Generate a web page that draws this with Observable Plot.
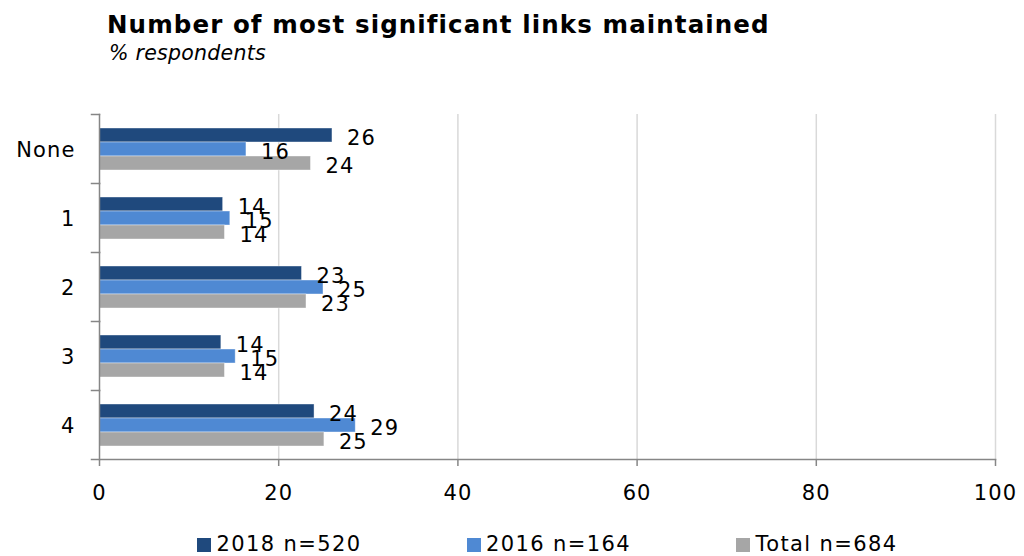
<!DOCTYPE html>
<html>
<head>
<meta charset="utf-8">
<script src="https://cdn.jsdelivr.net/npm/d3@7"></script>
<script src="https://cdn.jsdelivr.net/npm/@observablehq/plot@0.6"></script>
<style>
  html, body { margin: 0; padding: 0; background: #fff; }
  body { width: 1024px; height: 556px; overflow: hidden; position: relative; font-family: "DejaVu Sans", sans-serif; }
  #head { position: relative; height: 80px; }
  #title { position: absolute; left: 107px; top: 10px; font: bold 24.5px "DejaVu Sans", sans-serif; letter-spacing: 1.1px; color: #000; white-space: nowrap; }
  #subtitle { position: absolute; left: 109px; top: 41px; font: oblique 20.5px "DejaVu Sans", sans-serif; letter-spacing: 0.25px; color: #000; white-space: nowrap; }
  #chart { position: relative; height: 440px; }
  #legend { position: relative; height: 36px; }
  .sw { position: absolute; top: 18px; width: 14px; height: 14px; }
  .lt { position: absolute; top: 15px; font-size: 21px; line-height: 18px; letter-spacing: 1.4px; color: #000; white-space: nowrap; }
</style>
</head>
<body>
<div id="head">
  <div id="title"></div>
  <div id="subtitle"></div>
</div>
<div id="chart"></div>
<div id="legend"></div>
<script>
// ---- data ----
const titleText = "Number of most significant links maintained";
const subtitleText = "% respondents";
const categories = ["None", "1", "2", "3", "4"];
const seriesNames = ["2018 n=520", "2016 n=164", "Total n=684"];
const values2018 = [26.0, 13.8, 22.6, 13.6, 24.0];
const values2016 = [16.4, 14.6, 25.0, 15.2, 28.6];
const valuesTotal = [23.6, 14.0, 23.1, 14.0, 25.1];
const xTicks = [0, 20, 40, 60, 80, 100];
const seriesColors = ["#1f497d", "#4f89d3", "#a6a6a6"];

// ---- table ----
const seriesValues = [values2018, values2016, valuesTotal];
const rows = [];
categories.forEach((c, i) => {
  seriesNames.forEach((s, j) => rows.push({category: c, series: s, value: seriesValues[j][i]}));
});

document.getElementById("title").textContent = titleText;
document.getElementById("subtitle").textContent = subtitleText;

const W = 1024, H = 440;
const mL = 99, mR = 29, mT = 32, mB = 60;
const innerW = W - mL - mR;
const axisGray = "#868686";

const chart = Plot.plot({
  width: W,
  height: H,
  marginLeft: mL,
  marginRight: mR,
  marginTop: mT,
  marginBottom: mB,
  style: {fontFamily: "DejaVu Sans, sans-serif", fontSize: "21px", letterSpacing: "1.1px", color: "#000", background: "transparent", overflow: "visible", display: "block"},
  x: {domain: [0, 100], axis: null},
  fy: {domain: categories, padding: 0, axis: null},
  y: {domain: seriesNames, paddingInner: 0, paddingOuter: 0.82, axis: null},
  color: {domain: seriesNames, range: seriesColors},
  marks: [
    Plot.gridX(xTicks.filter(d => d > 0), {stroke: "#d9d9d9", strokeOpacity: 1, strokeWidth: 1.5}),
    Plot.barX(rows, {fy: "category", y: "series", x: "value", fill: "series", stroke: "#ffffff", strokeOpacity: 0.5, strokeWidth: 0.8}),
    Plot.text(rows, {fy: "category", y: "series", x: "value", text: d => String(Math.round(d.value)), textAnchor: "start", dx: 14.5, dy: 3, fontSize: 21, fill: "#000"}),
    Plot.frame({anchor: "left", stroke: axisGray, strokeWidth: 1.5}),
    Plot.frame({anchor: "top", stroke: axisGray, strokeWidth: 1.5, insetLeft: -8, insetRight: innerW}),
    Plot.frame({anchor: "bottom", facetAnchor: "bottom", stroke: axisGray, strokeWidth: 1.5, insetLeft: -8}),
    Plot.axisX({anchor: "bottom", ticks: xTicks, tickSize: 7, tickPadding: 19, stroke: axisGray, strokeWidth: 1.5, fill: "#000", fontSize: 21, label: null}),
    Plot.axisFy({anchor: "left", tickSize: 0, tickPadding: 24, fontSize: 21, dy: 1, fill: "#000", label: null})
  ]
});
document.getElementById("chart").appendChild(chart);

// ---- legend ----
const legend = document.getElementById("legend");
seriesNames.forEach((s, i) => {
  const x0 = 197 + i * 269.5;
  const sw = document.createElement("div");
  sw.className = "sw";
  sw.style.left = x0 + "px";
  sw.style.background = seriesColors[i];
  const t = document.createElement("span");
  t.className = "lt";
  t.style.left = (x0 + 19.5) + "px";
  t.textContent = s;
  legend.appendChild(sw);
  legend.appendChild(t);
});
</script>
</body>
</html>
